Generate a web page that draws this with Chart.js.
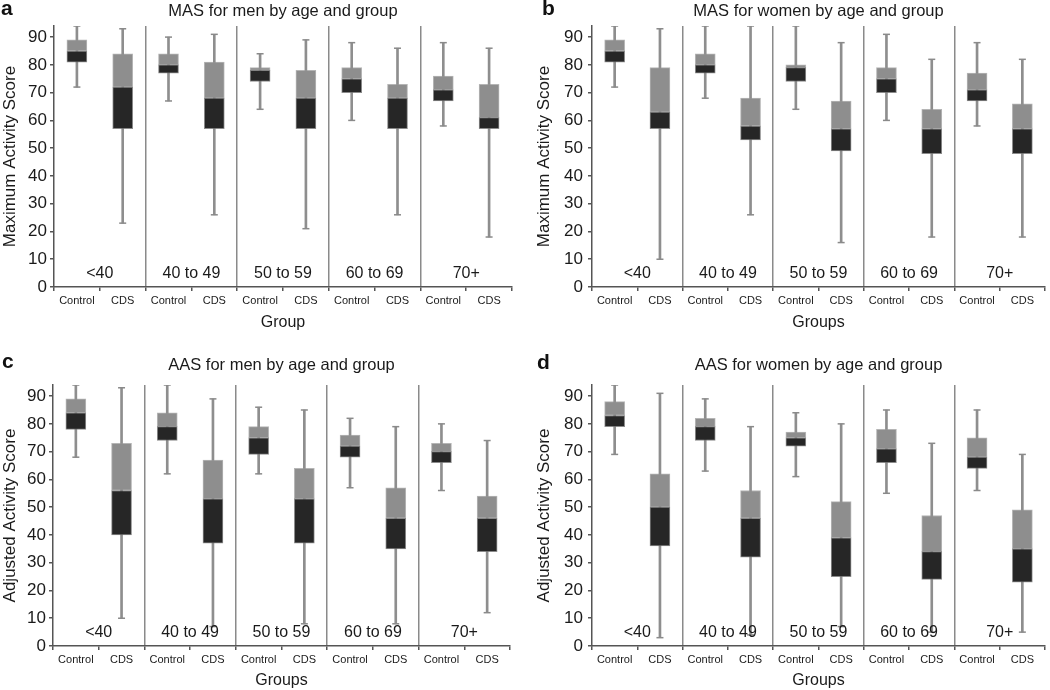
<!DOCTYPE html>
<html>
<head>
<meta charset="utf-8">
<script src="https://cdn.jsdelivr.net/npm/chart.js@4/dist/chart.umd.min.js"></script>
<style>
  body { margin: 0; background: #fff; width: 1050px; height: 690px; position: relative; overflow: hidden; font-family: "Liberation Sans", Arial, sans-serif; }
  canvas { position: absolute; }
  .letter { position: absolute; font-size: 21px; font-weight: bold; line-height: 20px; color: #111; }
</style>
</head>
<body>
<canvas id="chart_a" width="525" height="345" style="left:0;top:0"></canvas>
<canvas id="chart_b" width="525" height="345" style="left:525px;top:0"></canvas>
<canvas id="chart_c" width="525" height="345" style="left:0;top:345px"></canvas>
<canvas id="chart_d" width="525" height="345" style="left:525px;top:345px"></canvas>
<div class="letter" style="left:1px;top:-2px">a</div>
<div class="letter" style="left:542px;top:-2px">b</div>
<div class="letter" style="left:2px;top:351px">c</div>
<div class="letter" style="left:537px;top:352px">d</div>
<script>
var FONT = '"Liberation Sans", Arial, sans-serif';

var groupLabels = ["Control", "CDS", "Control", "CDS", "Control", "CDS", "Control", "CDS", "Control", "CDS"];
var ageLabels = ["<40", "40 to 49", "50 to 59", "60 to 69", "70+"];
var yTicks = [0, 10, 20, 30, 40, 50, 60, 70, 80, 90];

// each box: [min, q1, median, q3, max]
var masMen = [
  [72, 81, 85, 89, 94], [23, 57, 72, 84, 93],
  [67, 77, 80, 84, 90], [26, 57, 68, 81, 91],
  [64, 74, 78, 79, 84], [21, 57, 68, 78, 89],
  [60, 70, 75, 79, 88], [26, 57, 68, 73, 86],
  [58, 67, 71, 76, 88], [18, 57, 61, 73, 86]
];
var masWomen = [
  [72, 81, 85, 89, 94], [10, 57, 63, 79, 93],
  [68, 77, 80, 84, 94], [26, 53, 58, 68, 94],
  [64, 74, 79, 80, 94], [16, 49, 57, 67, 88],
  [60, 70, 75, 79, 91], [18, 48, 57, 64, 82],
  [58, 67, 71, 77, 88], [18, 48, 57, 66, 82]
];
var aasMen = [
  [68, 78, 84, 89, 94], [10, 40, 56, 73, 93],
  [62, 74, 79, 84, 94], [7, 37, 53, 67, 89],
  [62, 69, 75, 79, 86], [8, 37, 53, 64, 85],
  [57, 68, 72, 76, 82], [8, 35, 46, 57, 79],
  [56, 66, 70, 73, 80], [12, 34, 46, 54, 74]
];
var aasWomen = [
  [69, 79, 83, 88, 94], [3, 36, 50, 62, 91],
  [63, 74, 79, 82, 89], [4, 32, 46, 56, 79],
  [61, 72, 75, 77, 84], [7, 25, 39, 52, 80],
  [55, 66, 71, 78, 85], [5, 24, 34, 47, 73],
  [56, 64, 68, 75, 85], [5, 23, 35, 49, 69]
];

var panels = [
  {id: "a", title: "MAS for men by age and group", yTitle: "Maximum Activity Score", xTitle: "Group", stats: masMen,
   left: 54, right: 512, top: 26, bottom: 287, padTop: 0, yTitleX: 9, yPad: 3, xTitlePad: 13},
  {id: "b", title: "MAS for women by age and group", yTitle: "Maximum Activity Score", xTitle: "Groups", stats: masWomen,
   left: 67, right: 522, top: 26, bottom: 287, padTop: 0, yTitleX: 19, yPad: 5, xTitlePad: 13},
  {id: "c", title: "AAS for men by age and group", yTitle: "Adjusted Activity Score", xTitle: "Groups", stats: aasMen,
   left: 53, right: 510, top: 40, bottom: 301, padTop: 9, yTitleX: 9, yPad: 3, xTitlePad: 0},
  {id: "d", title: "AAS for women by age and group", yTitle: "Adjusted Activity Score", xTitle: "Groups", stats: aasWomen,
   left: 67, right: 522, top: 40, bottom: 301, padTop: 9, yTitleX: 19, yPad: 5, xTitlePad: 0}
];

// age group names written inside the plot, centred under each pair
var ageLabelPlugin = {
  id: "ageLabels",
  afterDatasetsDraw: function(chart) {
    var ctx = chart.ctx, xs = chart.scales.x, ys = chart.scales.y;
    ctx.save();
    ctx.font = "16px " + FONT;
    ctx.fillStyle = "#1a1a1a";
    ctx.textAlign = "center";
    ctx.textBaseline = "middle";
    ageLabels.forEach(function(t, i) {
      var x = (xs.getPixelForValue(2 * i) + xs.getPixelForValue(2 * i + 1)) / 2;
      ctx.fillText(t, x, ys.getPixelForValue(5));
    });
    ctx.restore();
  }
};

function makeChart(p) {
  var ctx = document.getElementById("chart_" + p.id).getContext("2d");
  var capStyle = {
    type: "line", showLine: false, pointStyle: "line", pointRadius: 3.5, pointHoverRadius: 3.5,
    borderColor: "#8a8a8a", pointBorderWidth: 1.5, borderWidth: 1.5, order: 0
  };
  return new Chart(ctx, {
    type: "bar",
    data: {
      labels: groupLabels,
      datasets: [
        {label: "whisker", data: p.stats.map(function(s) { return [s[0], s[4]]; }),
         backgroundColor: "#8e8e8e", barThickness: 2, grouped: false, order: 3},
        {label: "upper", data: p.stats.map(function(s) { return [s[2], s[3]]; }),
         backgroundColor: "#8e8e8e", borderColor: "rgba(150,150,150,0.7)", borderWidth: 1, borderSkipped: false,
         barThickness: 20, grouped: false, order: 2},
        {label: "lower", data: p.stats.map(function(s) { return [s[1], s[2]]; }),
         backgroundColor: "#262626", borderColor: "rgba(110,110,110,0.8)", borderWidth: 1, borderSkipped: false,
         barThickness: 20, grouped: false, order: 1},
        Object.assign({label: "max", data: p.stats.map(function(s) { return s[4]; })}, capStyle),
        Object.assign({label: "min", data: p.stats.map(function(s) { return s[0]; })}, capStyle)
      ]
    },
    options: {
      responsive: false,
      animation: false,
      layout: {padding: {left: 0, right: 525 - p.right, top: p.padTop, bottom: 0}},
      plugins: {
        legend: {display: false},
        tooltip: {enabled: false},
        title: {
          display: true, text: p.title, fullSize: false, color: "#1a1a1a",
          font: {family: FONT, size: 16.5, weight: "normal"},
          padding: {top: 2, bottom: p.top - p.padTop - 21.8}
        }
      },
      scales: {
        x: {
          offset: true,
          grid: {
            offset: true,
            drawOnChartArea: true,
            color: function(c) { return (c.index > 0 && c.index < 10 && c.index % 2 === 0) ? "#8a8a8a" : "rgba(0,0,0,0)"; },
            lineWidth: 1.5,
            tickColor: "#555",
            tickWidth: 1.5,
            tickLength: 4
          },
          border: {display: true, color: "#555", width: 1.5},
          ticks: {color: "#1a1a1a", font: {family: FONT, size: 11}, padding: 3, maxRotation: 0, autoSkip: false},
          title: {display: true, text: p.xTitle, color: "#1a1a1a", font: {family: FONT, size: 16}, padding: {top: 0, bottom: p.xTitlePad}},
          afterFit: function(s) { s.height = 345 - p.bottom; }
        },
        y: {
          min: 0,
          max: 94,
          afterBuildTicks: function(s) { s.ticks = yTicks.map(function(v) { return {value: v}; }); },
          grid: {drawOnChartArea: false, drawTicks: true, tickLength: 4, color: "#555", lineWidth: 1.5},
          border: {display: true, color: "#555", width: 1.5},
          ticks: {color: "#1a1a1a", font: {family: FONT, size: 17}, padding: p.yPad},
          title: {display: true, text: p.yTitle, color: "#1a1a1a", font: {family: FONT, size: 17}, padding: {top: Math.max(0, p.yTitleX - 10.2), bottom: 0}},
          afterFit: function(s) { s.width = p.left; }
        }
      }
    },
    plugins: [ageLabelPlugin]
  });
}

panels.forEach(makeChart);
</script>
</body>
</html>
